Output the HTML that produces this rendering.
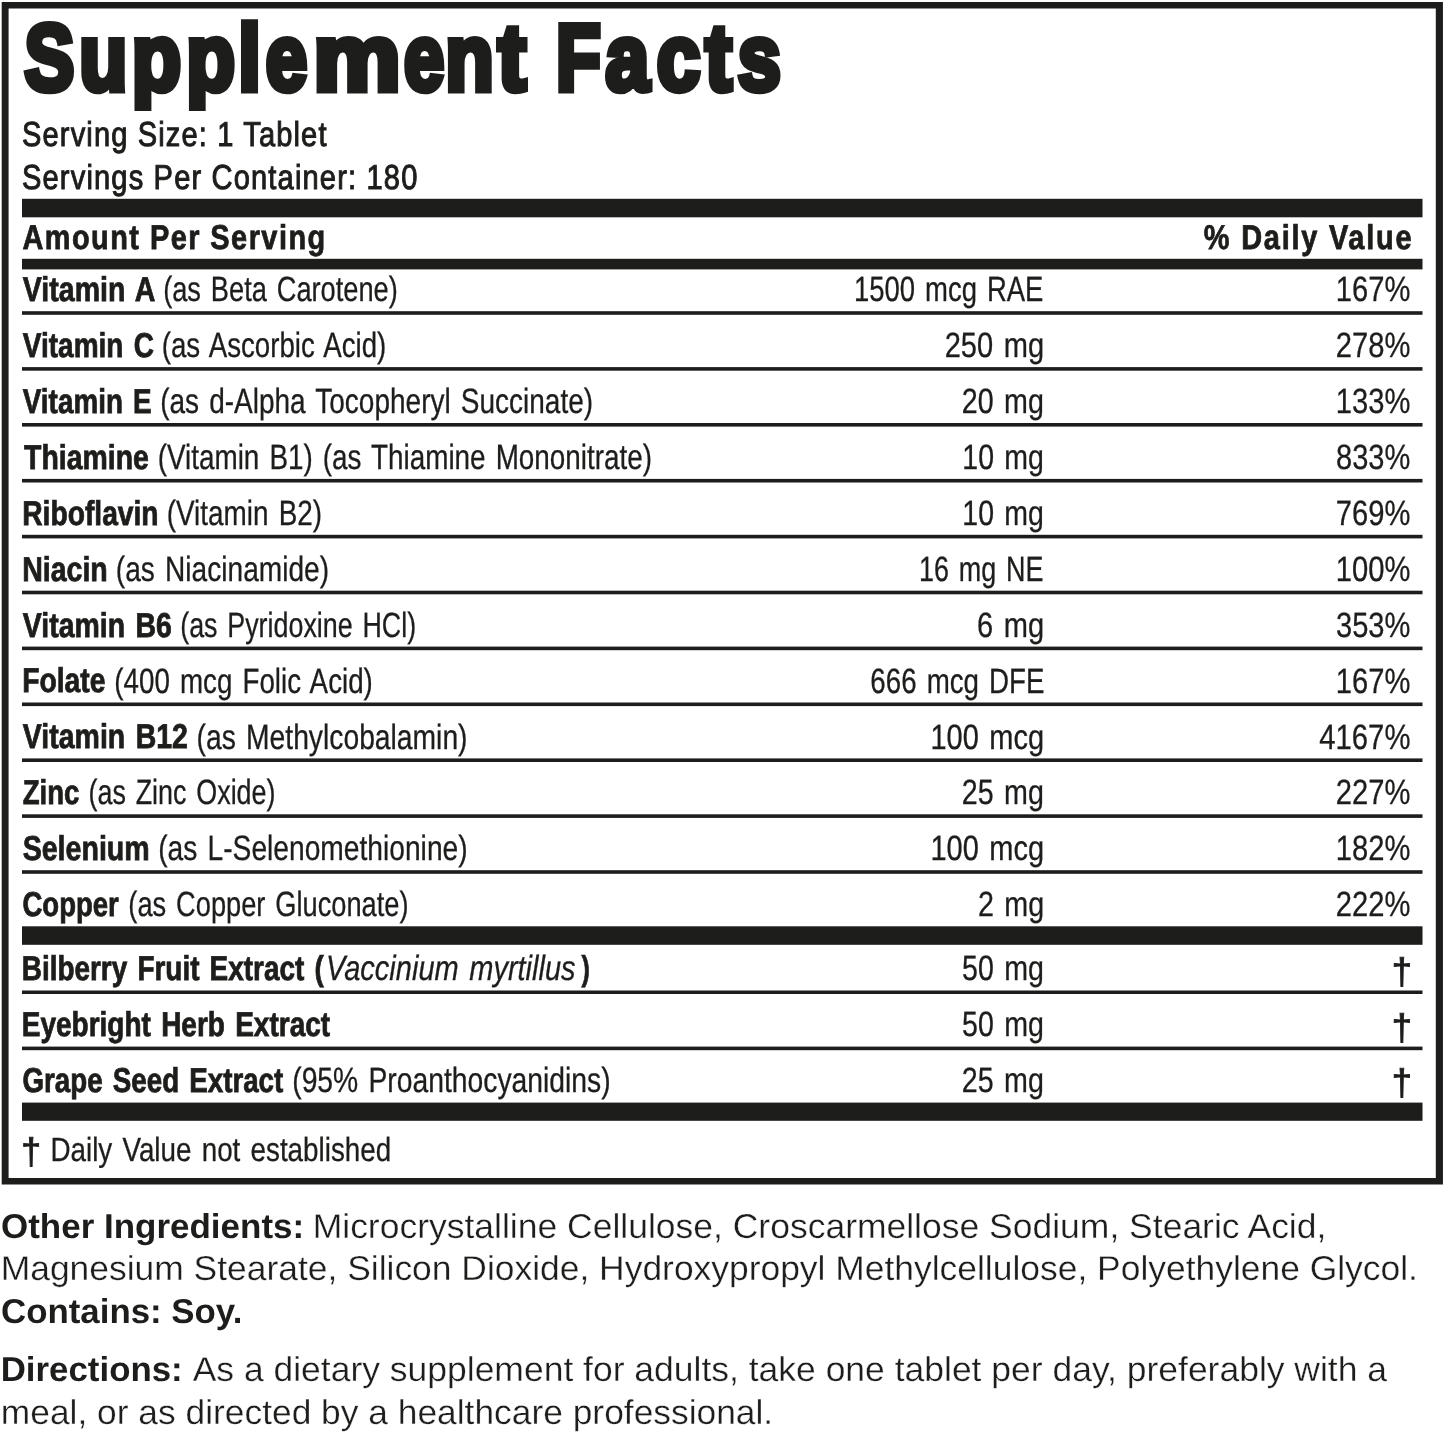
<!DOCTYPE html>
<html lang="en">
<head>
<meta charset="utf-8">
<title>Supplement Facts</title>
<style>
  html, body { margin: 0; padding: 0; background: #ffffff; }
  body { width: 1445px; height: 1435px; overflow: hidden; font-family: "Liberation Sans", sans-serif; }
  svg.label { display: block; width: 1445px; height: 1435px; will-change: transform; }
  svg.label text { font-family: "Liberation Sans", sans-serif; fill: #1d1d1b; white-space: pre; }
</style>
</head>
<body>
<svg class="label" width="1445" height="1435" viewBox="0 0 1445 1435" fill="#1d1d1b" text-rendering="geometricPrecision">
  <defs><clipPath id="tclip"><rect x="0" y="19.3" width="1445" height="91.6"/></clipPath></defs>
  <rect x="0" y="0" width="1445" height="1435" fill="#ffffff"/>
  <g id="frame">
    <path fill-rule="evenodd" d="M1.7 1.9H1442.95V1184.6H1.7Z M8.6 8.4V1177.9H1435.8V8.4Z"/>
  </g>
  <g id="rules">
    <rect x="22.0" y="198.80" width="1400.50" height="18.50"/>
    <rect x="22.0" y="258.80" width="1400.50" height="10.60"/>
    <rect x="22.0" y="311.20" width="1400.50" height="3.60"/>
    <rect x="22.0" y="367.10" width="1400.50" height="3.60"/>
    <rect x="22.0" y="423.00" width="1400.50" height="3.60"/>
    <rect x="22.0" y="478.90" width="1400.50" height="3.60"/>
    <rect x="22.0" y="534.80" width="1400.50" height="3.60"/>
    <rect x="22.0" y="590.70" width="1400.50" height="3.60"/>
    <rect x="22.0" y="646.60" width="1400.50" height="3.60"/>
    <rect x="22.0" y="702.50" width="1400.50" height="3.60"/>
    <rect x="22.0" y="758.40" width="1400.50" height="3.60"/>
    <rect x="22.0" y="814.30" width="1400.50" height="3.60"/>
    <rect x="22.0" y="870.20" width="1400.50" height="3.60"/>
    <rect x="22.0" y="926.30" width="1400.50" height="18.50"/>
    <rect x="22.0" y="990.50" width="1400.50" height="3.50"/>
    <rect x="22.0" y="1046.60" width="1400.50" height="3.60"/>
    <rect x="22.0" y="1102.60" width="1400.50" height="18.20"/>
  </g>
  <g id="title">
    <text aria-label="Supplement Facts" clip-path="url(#tclip)" y="89.60" font-size="94.04" font-weight="bold" stroke="#1d1d1b" stroke-width="6.8" stroke-linejoin="miter"><tspan x="24.62" textLength="49.78" lengthAdjust="spacingAndGlyphs">S</tspan><tspan x="79.32" textLength="48.13" lengthAdjust="spacingAndGlyphs">u</tspan><tspan x="131.65" textLength="49.44" lengthAdjust="spacingAndGlyphs">p</tspan><tspan x="186.17" textLength="48.82" lengthAdjust="spacingAndGlyphs">p</tspan><tspan x="238.34" textLength="22.60" lengthAdjust="spacingAndGlyphs">l</tspan><tspan x="265.72" textLength="41.44" lengthAdjust="spacingAndGlyphs">e</tspan><tspan x="313.29" textLength="87.40" lengthAdjust="spacingAndGlyphs">m</tspan><tspan x="404.02" textLength="40.18" lengthAdjust="spacingAndGlyphs">e</tspan><tspan x="445.13" textLength="48.51" lengthAdjust="spacingAndGlyphs">n</tspan><tspan x="497.89" textLength="28.02" lengthAdjust="spacingAndGlyphs">t</tspan> <tspan x="555.90" textLength="44.81" lengthAdjust="spacingAndGlyphs">F</tspan><tspan x="605.49" textLength="43.72" lengthAdjust="spacingAndGlyphs">a</tspan><tspan x="656.63" textLength="43.58" lengthAdjust="spacingAndGlyphs">c</tspan><tspan x="705.37" textLength="26.58" lengthAdjust="spacingAndGlyphs">t</tspan><tspan x="737.78" textLength="43.17" lengthAdjust="spacingAndGlyphs">s</tspan></text>
  </g>
  <g id="serving-info">
    <text x="21.99" y="145.80" font-size="34.59" stroke="#1d1d1b" stroke-width="1.0" stroke-linejoin="miter" letter-spacing="1.365" textLength="305.66" lengthAdjust="spacingAndGlyphs">Serving Size: 1 Tablet</text>
    <text x="21.99" y="188.70" font-size="34.59" stroke="#1d1d1b" stroke-width="1.0" stroke-linejoin="miter" letter-spacing="1.383" textLength="396.50" lengthAdjust="spacingAndGlyphs">Servings Per Container: 180</text>
  </g>
  <g id="column-headings">
    <text x="22.44" y="249.20" font-size="34.45" font-weight="bold" stroke="#1d1d1b" stroke-width="0.8" stroke-linejoin="miter" letter-spacing="1.726" textLength="304.18" lengthAdjust="spacingAndGlyphs">Amount Per Serving</text>
    <text x="1203.86" y="249.20" font-size="34.45" font-weight="bold" stroke="#1d1d1b" stroke-width="0.8" stroke-linejoin="miter" letter-spacing="2.090" textLength="209.41" lengthAdjust="spacingAndGlyphs">% Daily Value</text>
  </g>
  <g id="row-vitamin-a">
    <text x="22.82" y="301.10" font-size="34.45" font-weight="bold" stroke="#1d1d1b" stroke-width="0.8" stroke-linejoin="miter" word-spacing="3" textLength="132.62" lengthAdjust="spacingAndGlyphs">Vitamin A</text>
    <text x="163.17" y="301.35" font-size="35.17" stroke="#1d1d1b" stroke-width="0.3" stroke-linejoin="miter" word-spacing="3" textLength="234.61" lengthAdjust="spacingAndGlyphs">(as Beta Carotene)</text>
    <text x="853.93" y="301.35" font-size="35.17" stroke="#1d1d1b" stroke-width="0.3" stroke-linejoin="miter" word-spacing="3" textLength="189.49" lengthAdjust="spacingAndGlyphs">1500 mcg RAE</text>
    <text x="1335.83" y="301.35" font-size="35.17" stroke="#1d1d1b" stroke-width="0.3" stroke-linejoin="miter" textLength="74.53" lengthAdjust="spacingAndGlyphs">167%</text>
  </g>
  <g id="row-vitamin-c">
    <text x="22.81" y="357.00" font-size="34.45" font-weight="bold" stroke="#1d1d1b" stroke-width="0.8" stroke-linejoin="miter" word-spacing="3" textLength="131.08" lengthAdjust="spacingAndGlyphs">Vitamin C</text>
    <text x="161.75" y="357.25" font-size="35.17" stroke="#1d1d1b" stroke-width="0.3" stroke-linejoin="miter" word-spacing="3" textLength="224.55" lengthAdjust="spacingAndGlyphs">(as Ascorbic Acid)</text>
    <text x="944.73" y="357.25" font-size="35.17" stroke="#1d1d1b" stroke-width="0.3" stroke-linejoin="miter" word-spacing="3" textLength="99.34" lengthAdjust="spacingAndGlyphs">250 mg</text>
    <text x="1335.83" y="357.25" font-size="35.17" stroke="#1d1d1b" stroke-width="0.3" stroke-linejoin="miter" textLength="74.53" lengthAdjust="spacingAndGlyphs">278%</text>
  </g>
  <g id="row-vitamin-e">
    <text x="22.81" y="412.90" font-size="34.45" font-weight="bold" stroke="#1d1d1b" stroke-width="0.8" stroke-linejoin="miter" word-spacing="3" textLength="128.86" lengthAdjust="spacingAndGlyphs">Vitamin E</text>
    <text x="160.14" y="413.15" font-size="35.17" stroke="#1d1d1b" stroke-width="0.3" stroke-linejoin="miter" word-spacing="3" textLength="432.95" lengthAdjust="spacingAndGlyphs">(as d-Alpha Tocopheryl Succinate)</text>
    <text x="961.85" y="413.15" font-size="35.17" stroke="#1d1d1b" stroke-width="0.3" stroke-linejoin="miter" word-spacing="3" textLength="82.07" lengthAdjust="spacingAndGlyphs">20 mg</text>
    <text x="1335.83" y="413.15" font-size="35.17" stroke="#1d1d1b" stroke-width="0.3" stroke-linejoin="miter" textLength="74.53" lengthAdjust="spacingAndGlyphs">133%</text>
  </g>
  <g id="row-thiamine">
    <text x="24.12" y="468.80" font-size="34.45" font-weight="bold" stroke="#1d1d1b" stroke-width="0.8" stroke-linejoin="miter" textLength="124.82" lengthAdjust="spacingAndGlyphs">Thiamine</text>
    <text x="157.75" y="469.05" font-size="35.17" stroke="#1d1d1b" stroke-width="0.3" stroke-linejoin="miter" word-spacing="3" textLength="494.16" lengthAdjust="spacingAndGlyphs">(Vitamin B1) (as Thiamine Mononitrate)</text>
    <text x="962.37" y="469.05" font-size="35.17" stroke="#1d1d1b" stroke-width="0.3" stroke-linejoin="miter" word-spacing="3" textLength="81.54" lengthAdjust="spacingAndGlyphs">10 mg</text>
    <text x="1336.04" y="469.05" font-size="35.17" stroke="#1d1d1b" stroke-width="0.3" stroke-linejoin="miter" textLength="74.33" lengthAdjust="spacingAndGlyphs">833%</text>
  </g>
  <g id="row-riboflavin">
    <text x="22.23" y="524.70" font-size="34.45" font-weight="bold" stroke="#1d1d1b" stroke-width="0.8" stroke-linejoin="miter" textLength="136.40" lengthAdjust="spacingAndGlyphs">Riboflavin</text>
    <text x="166.74" y="524.95" font-size="35.17" stroke="#1d1d1b" stroke-width="0.3" stroke-linejoin="miter" word-spacing="3" textLength="155.32" lengthAdjust="spacingAndGlyphs">(Vitamin B2)</text>
    <text x="962.37" y="524.95" font-size="35.17" stroke="#1d1d1b" stroke-width="0.3" stroke-linejoin="miter" word-spacing="3" textLength="81.54" lengthAdjust="spacingAndGlyphs">10 mg</text>
    <text x="1335.81" y="524.95" font-size="35.17" stroke="#1d1d1b" stroke-width="0.3" stroke-linejoin="miter" textLength="74.55" lengthAdjust="spacingAndGlyphs">769%</text>
  </g>
  <g id="row-niacin">
    <text x="22.22" y="580.60" font-size="34.45" font-weight="bold" stroke="#1d1d1b" stroke-width="0.8" stroke-linejoin="miter" textLength="85.57" lengthAdjust="spacingAndGlyphs">Niacin</text>
    <text x="115.83" y="580.85" font-size="35.17" stroke="#1d1d1b" stroke-width="0.3" stroke-linejoin="miter" word-spacing="3" textLength="213.23" lengthAdjust="spacingAndGlyphs">(as Niacinamide)</text>
    <text x="919.06" y="580.85" font-size="35.17" stroke="#1d1d1b" stroke-width="0.3" stroke-linejoin="miter" word-spacing="3" textLength="124.40" lengthAdjust="spacingAndGlyphs">16 mg NE</text>
    <text x="1335.83" y="580.85" font-size="35.17" stroke="#1d1d1b" stroke-width="0.3" stroke-linejoin="miter" textLength="74.53" lengthAdjust="spacingAndGlyphs">100%</text>
  </g>
  <g id="row-vitamin-b6">
    <text x="22.82" y="636.50" font-size="34.45" font-weight="bold" stroke="#1d1d1b" stroke-width="0.8" stroke-linejoin="miter" word-spacing="3" textLength="148.98" lengthAdjust="spacingAndGlyphs">Vitamin B6</text>
    <text x="180.19" y="636.75" font-size="35.17" stroke="#1d1d1b" stroke-width="0.3" stroke-linejoin="miter" word-spacing="3" textLength="235.96" lengthAdjust="spacingAndGlyphs">(as Pyridoxine HCl)</text>
    <text x="977.09" y="636.75" font-size="35.17" stroke="#1d1d1b" stroke-width="0.3" stroke-linejoin="miter" word-spacing="3" textLength="67.08" lengthAdjust="spacingAndGlyphs">6 mg</text>
    <text x="1336.02" y="636.75" font-size="35.17" stroke="#1d1d1b" stroke-width="0.3" stroke-linejoin="miter" textLength="74.34" lengthAdjust="spacingAndGlyphs">353%</text>
  </g>
  <g id="row-folate">
    <text x="22.23" y="692.40" font-size="34.45" font-weight="bold" stroke="#1d1d1b" stroke-width="0.8" stroke-linejoin="miter" textLength="83.25" lengthAdjust="spacingAndGlyphs">Folate</text>
    <text x="114.35" y="692.65" font-size="35.17" stroke="#1d1d1b" stroke-width="0.3" stroke-linejoin="miter" word-spacing="3" textLength="258.51" lengthAdjust="spacingAndGlyphs">(400 mcg Folic Acid)</text>
    <text x="870.34" y="692.65" font-size="35.17" stroke="#1d1d1b" stroke-width="0.3" stroke-linejoin="miter" word-spacing="3" textLength="174.18" lengthAdjust="spacingAndGlyphs">666 mcg DFE</text>
    <text x="1335.83" y="692.65" font-size="35.17" stroke="#1d1d1b" stroke-width="0.3" stroke-linejoin="miter" textLength="74.53" lengthAdjust="spacingAndGlyphs">167%</text>
  </g>
  <g id="row-vitamin-b12">
    <text x="22.82" y="748.30" font-size="34.45" font-weight="bold" stroke="#1d1d1b" stroke-width="0.8" stroke-linejoin="miter" word-spacing="3" textLength="165.11" lengthAdjust="spacingAndGlyphs">Vitamin B12</text>
    <text x="196.53" y="748.55" font-size="35.17" stroke="#1d1d1b" stroke-width="0.3" stroke-linejoin="miter" word-spacing="3" textLength="271.00" lengthAdjust="spacingAndGlyphs">(as Methylcobalamin)</text>
    <text x="930.44" y="748.55" font-size="35.17" stroke="#1d1d1b" stroke-width="0.3" stroke-linejoin="miter" word-spacing="3" textLength="113.59" lengthAdjust="spacingAndGlyphs">100 mcg</text>
    <text x="1319.22" y="748.55" font-size="35.17" stroke="#1d1d1b" stroke-width="0.3" stroke-linejoin="miter" textLength="91.22" lengthAdjust="spacingAndGlyphs">4167%</text>
  </g>
  <g id="row-zinc">
    <text x="22.74" y="804.20" font-size="34.45" font-weight="bold" stroke="#1d1d1b" stroke-width="0.8" stroke-linejoin="miter" textLength="56.73" lengthAdjust="spacingAndGlyphs">Zinc</text>
    <text x="88.49" y="804.45" font-size="35.17" stroke="#1d1d1b" stroke-width="0.3" stroke-linejoin="miter" word-spacing="3" textLength="187.04" lengthAdjust="spacingAndGlyphs">(as Zinc Oxide)</text>
    <text x="961.85" y="804.45" font-size="35.17" stroke="#1d1d1b" stroke-width="0.3" stroke-linejoin="miter" word-spacing="3" textLength="82.07" lengthAdjust="spacingAndGlyphs">25 mg</text>
    <text x="1335.83" y="804.45" font-size="35.17" stroke="#1d1d1b" stroke-width="0.3" stroke-linejoin="miter" textLength="74.53" lengthAdjust="spacingAndGlyphs">227%</text>
  </g>
  <g id="row-selenium">
    <text x="22.63" y="860.10" font-size="34.45" font-weight="bold" stroke="#1d1d1b" stroke-width="0.8" stroke-linejoin="miter" textLength="127.07" lengthAdjust="spacingAndGlyphs">Selenium</text>
    <text x="158.13" y="860.35" font-size="35.17" stroke="#1d1d1b" stroke-width="0.3" stroke-linejoin="miter" word-spacing="3" textLength="309.50" lengthAdjust="spacingAndGlyphs">(as L-Selenomethionine)</text>
    <text x="930.44" y="860.35" font-size="35.17" stroke="#1d1d1b" stroke-width="0.3" stroke-linejoin="miter" word-spacing="3" textLength="113.59" lengthAdjust="spacingAndGlyphs">100 mcg</text>
    <text x="1335.83" y="860.35" font-size="35.17" stroke="#1d1d1b" stroke-width="0.3" stroke-linejoin="miter" textLength="74.53" lengthAdjust="spacingAndGlyphs">182%</text>
  </g>
  <g id="row-copper">
    <text x="22.46" y="916.00" font-size="34.45" font-weight="bold" stroke="#1d1d1b" stroke-width="0.8" stroke-linejoin="miter" textLength="96.37" lengthAdjust="spacingAndGlyphs">Copper</text>
    <text x="128.37" y="916.25" font-size="35.17" stroke="#1d1d1b" stroke-width="0.3" stroke-linejoin="miter" word-spacing="3" textLength="280.17" lengthAdjust="spacingAndGlyphs">(as Copper Gluconate)</text>
    <text x="977.95" y="916.25" font-size="35.17" stroke="#1d1d1b" stroke-width="0.3" stroke-linejoin="miter" word-spacing="3" textLength="66.21" lengthAdjust="spacingAndGlyphs">2 mg</text>
    <text x="1335.83" y="916.25" font-size="35.17" stroke="#1d1d1b" stroke-width="0.3" stroke-linejoin="miter" textLength="74.53" lengthAdjust="spacingAndGlyphs">222%</text>
  </g>
  <g id="row-bilberry-fruit-extract">
    <text x="21.75" y="980.00" font-size="34.45" font-weight="bold" stroke="#1d1d1b" stroke-width="0.8" stroke-linejoin="miter" word-spacing="3" textLength="301.99" lengthAdjust="spacingAndGlyphs">Bilberry Fruit Extract (</text>
    <text x="325.94" y="980.25" font-size="35.17" font-style="italic" stroke="#1d1d1b" stroke-width="0.3" stroke-linejoin="miter" word-spacing="3" textLength="249.67" lengthAdjust="spacingAndGlyphs">Vaccinium myrtillus</text>
    <text x="581.46" y="980.00" font-size="34.45" font-weight="bold" stroke="#1d1d1b" stroke-width="0.8" stroke-linejoin="miter" textLength="8.32" lengthAdjust="spacingAndGlyphs">)</text>
    <text x="962.10" y="980.25" font-size="35.17" stroke="#1d1d1b" stroke-width="0.3" stroke-linejoin="miter" word-spacing="3" textLength="81.82" lengthAdjust="spacingAndGlyphs">50 mg</text>
    <text x="1391.81" y="983.90" font-size="37.1" stroke="#1d1d1b" stroke-width="0.9" stroke-linejoin="miter" textLength="20.28" lengthAdjust="spacingAndGlyphs">†</text>
  </g>
  <g id="row-eyebright-herb-extract">
    <text x="21.74" y="1036.00" font-size="34.45" font-weight="bold" stroke="#1d1d1b" stroke-width="0.8" stroke-linejoin="miter" word-spacing="3" textLength="308.40" lengthAdjust="spacingAndGlyphs">Eyebright Herb Extract</text>
    <text x="962.10" y="1036.25" font-size="35.17" stroke="#1d1d1b" stroke-width="0.3" stroke-linejoin="miter" word-spacing="3" textLength="81.82" lengthAdjust="spacingAndGlyphs">50 mg</text>
    <text x="1391.81" y="1039.90" font-size="37.1" stroke="#1d1d1b" stroke-width="0.9" stroke-linejoin="miter" textLength="20.28" lengthAdjust="spacingAndGlyphs">†</text>
  </g>
  <g id="row-grape-seed-extract">
    <text x="22.45" y="1091.50" font-size="34.45" font-weight="bold" stroke="#1d1d1b" stroke-width="0.8" stroke-linejoin="miter" word-spacing="3" textLength="260.85" lengthAdjust="spacingAndGlyphs">Grape Seed Extract</text>
    <text x="292.23" y="1091.75" font-size="35.17" stroke="#1d1d1b" stroke-width="0.3" stroke-linejoin="miter" word-spacing="3" textLength="318.37" lengthAdjust="spacingAndGlyphs">(95% Proanthocyanidins)</text>
    <text x="961.85" y="1091.75" font-size="35.17" stroke="#1d1d1b" stroke-width="0.3" stroke-linejoin="miter" word-spacing="3" textLength="82.07" lengthAdjust="spacingAndGlyphs">25 mg</text>
    <text x="1391.81" y="1095.40" font-size="37.1" stroke="#1d1d1b" stroke-width="0.9" stroke-linejoin="miter" textLength="20.28" lengthAdjust="spacingAndGlyphs">†</text>
  </g>
  <g id="footnote">
    <text x="21.35" y="1164.10" font-size="37.1" stroke="#1d1d1b" stroke-width="0.9" stroke-linejoin="miter" textLength="19.82" lengthAdjust="spacingAndGlyphs">†</text>
    <text x="50.44" y="1160.65" font-size="33.58" stroke="#1d1d1b" stroke-width="0.3" stroke-linejoin="miter" word-spacing="3" textLength="340.72" lengthAdjust="spacingAndGlyphs">Daily Value not established</text>
  </g>
  <g id="other-ingredients">
    <text x="1.00" y="1238.00" font-size="34.5" font-weight="bold" textLength="303.14" lengthAdjust="spacingAndGlyphs">Other Ingredients:</text>
    <text x="312.70" y="1238.00" font-size="34.5" stroke="#ffffff" stroke-width="0.3" textLength="1013.67" lengthAdjust="spacingAndGlyphs">Microcrystalline Cellulose, Croscarmellose Sodium, Stearic Acid,</text>
    <text x="0.71" y="1280.30" font-size="34.5" stroke="#ffffff" stroke-width="0.3" textLength="1417.23" lengthAdjust="spacingAndGlyphs">Magnesium Stearate, Silicon Dioxide, Hydroxypropyl Methylcellulose, Polyethylene Glycol.</text>
    <text x="1.00" y="1322.60" font-size="34.5" font-weight="bold" textLength="241.33" lengthAdjust="spacingAndGlyphs">Contains: Soy.</text>
  </g>
  <g id="directions">
    <text x="0.71" y="1381.30" font-size="34.5" font-weight="bold" textLength="182.00" lengthAdjust="spacingAndGlyphs">Directions:</text>
    <text x="192.65" y="1381.30" font-size="34.5" stroke="#ffffff" stroke-width="0.3" textLength="1194.40" lengthAdjust="spacingAndGlyphs">As a dietary supplement for adults, take one tablet per day, preferably with a</text>
    <text x="0.80" y="1424.30" font-size="34.5" stroke="#ffffff" stroke-width="0.3" textLength="772.39" lengthAdjust="spacingAndGlyphs">meal, or as directed by a healthcare professional.</text>
  </g>
</svg>
</body>
</html>
